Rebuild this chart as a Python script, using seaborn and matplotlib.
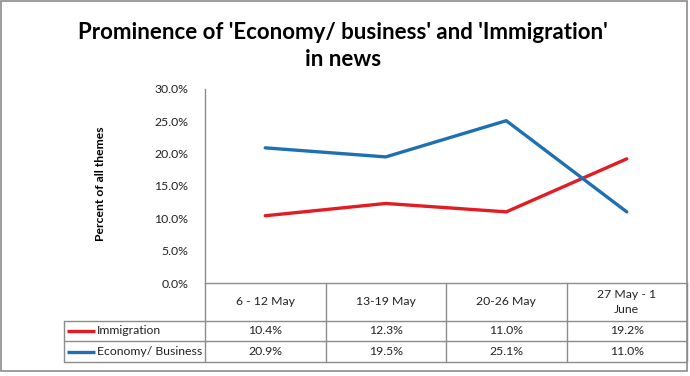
# Prominence of 'Economy/ business' and 'Immigration' in news
import numpy as np
import pandas as pd
import matplotlib
matplotlib.use("Agg")
import matplotlib.pyplot as plt
from matplotlib.ticker import PercentFormatter
from matplotlib.patches import Rectangle
import seaborn as sns

# data
periods = ['6 - 12 May', '13-19 May', '20-26 May', '27 May - 1\nJune']
series_names = ['Immigration', 'Economy/ Business']
immigration = [0.104, 0.123, 0.110, 0.192]
economy = [0.209, 0.195, 0.251, 0.110]
colors = ['#E31B23', '#1F70B0']

df = pd.DataFrame({
    'pos': list(range(len(periods))) * 2,
    'series': [series_names[0]] * len(periods) + [series_names[1]] * len(periods),
    'value': immigration + economy,
})

sns.set_theme(style="white")
plt.rcParams['font.family'] = ['Lato', 'DejaVu Sans']

W, H = 690, 376
# plot area in pixels
L, R, T, B = 205, 687, 89, 283
grid_col = '#8C8C8C'
fs = 8.8

fig = plt.figure(figsize=(W / 100, H / 100), dpi=100)
ax = fig.add_axes([L / W, 1 - B / H, (R - L) / W, (B - T) / H])

sns.lineplot(data=df, x='pos', y='value', hue='series', palette=colors,
             hue_order=series_names, linewidth=2.4, legend=False, ax=ax)

n = len(periods)
ax.set_xlim(-0.5, n - 0.5)
ax.set_ylim(0, 0.30)
ax.set_yticks(np.arange(0, 0.301, 0.05))
ax.yaxis.set_major_formatter(PercentFormatter(1.0, decimals=1))
ax.set_xticks([])
ax.set_xlabel('')
ax.set_ylabel('')
ax.tick_params(axis='y', labelsize=fs, pad=12, length=0, labelcolor='#222222')
for s in ['top', 'right']:
    ax.spines[s].set_visible(False)
for s in ['left', 'bottom']:
    ax.spines[s].set_color(grid_col)
    ax.spines[s].set_linewidth(1)
ax.patch.set_alpha(0)

# overlay in pixel coordinates for title, table and border
ov = fig.add_axes([0, 0, 1, 1], zorder=-1)
ov.set_xlim(0, W)
ov.set_ylim(H, 0)
ov.axis('off')

ov.add_patch(Rectangle((0.5, 0.5), R - 0.5, 371 - 0.5, fill=False,
                       edgecolor=grid_col, lw=1.2))

ov.text(343, 46, "Prominence of 'Economy/ business' and 'Immigration'\nin news",
        ha='center', va='center', fontsize=16, fontweight='bold',
        linespacing=1.32, color='black')

ov.text(101, 184, 'Percent of all themes', rotation=90, ha='center',
        va='center', fontsize=8.7, fontweight='bold', color='black')

# data table
row_top, row1, row2, row_bot = B, 320.7, 341.3, 362
leg_left = 64
col_w = (R - L) / n
edges = [L + i * col_w for i in range(n + 1)]
for x in edges:
    ov.plot([x, x], [row_top, row_bot], color=grid_col, lw=1)
for y in [row1, row2, row_bot]:
    ov.plot([leg_left, R], [y, y], color=grid_col, lw=1)
ov.plot([leg_left, leg_left], [row1, row_bot], color=grid_col, lw=1)

for i, p in enumerate(periods):
    cx = L + (i + 0.5) * col_w
    ov.text(cx, (row_top + row1) / 2, p, ha='center', va='center',
            fontsize=fs, linespacing=1.4, color='#222222')

rows = [immigration, economy]
for r, (name, vals, c) in enumerate(zip(series_names, rows, colors)):
    yc = [(row1 + row2) / 2, (row2 + row_bot) / 2][r]
    ov.plot([67, 95], [yc, yc], color=c, lw=2.4, solid_capstyle='butt')
    ov.text(97, yc, name, ha='left', va='center', fontsize=fs, color='#222222')
    for i, v in enumerate(vals):
        cx = L + (i + 0.5) * col_w
        ov.text(cx, yc, f'{v * 100:.1f}%', ha='center', va='center',
                fontsize=fs, color='#222222')

fig.savefig('out.png', dpi=100)
